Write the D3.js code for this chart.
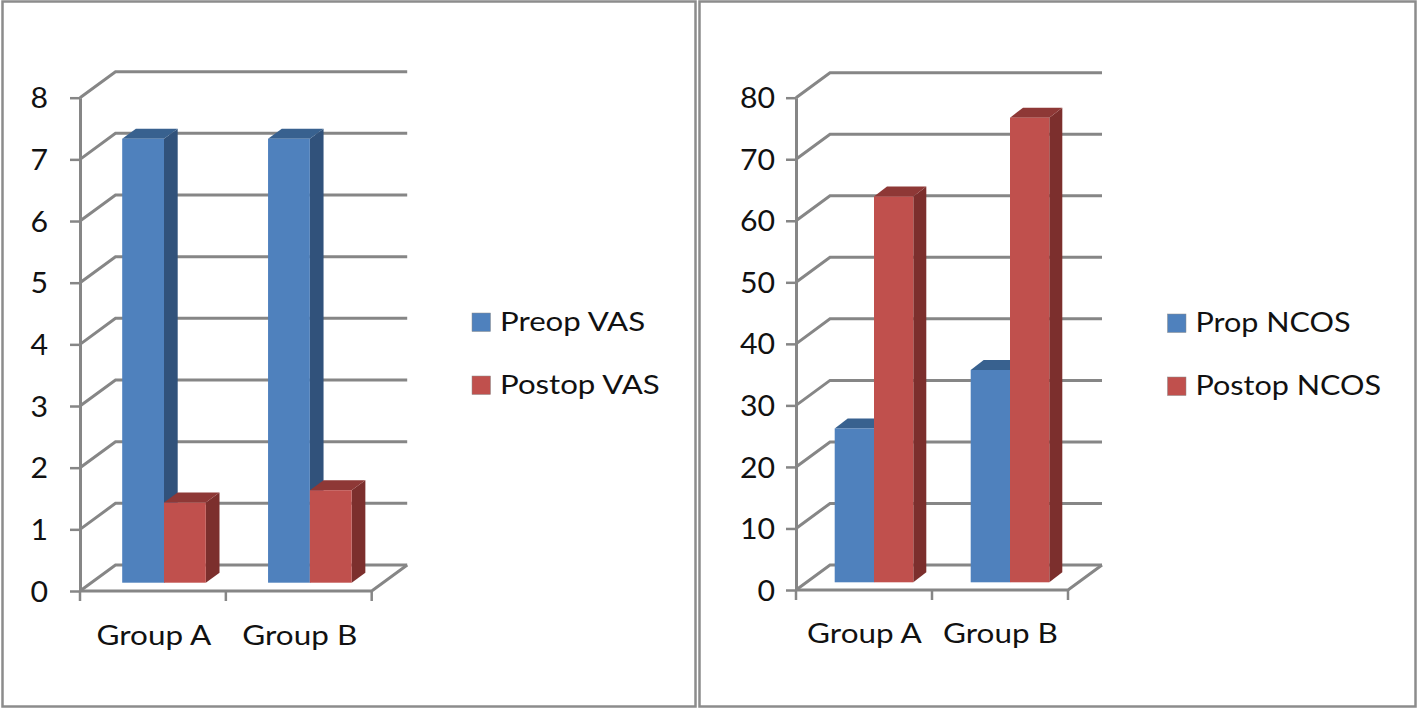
<!DOCTYPE html>
<html>
<head>
<meta charset="utf-8">
<script src="https://cdnjs.cloudflare.com/ajax/libs/d3/7.8.5/d3.min.js"></script>
<style>
  html, body { margin: 0; padding: 0; background: #fff; }
  svg { display: block; }
  text { fill: #111; }
</style>
</head>
<body>
<svg id="vis" width="1418" height="710"></svg>
<script>
const groups = ["Group A", "Group B"];

const vasSeries = ["Preop VAS", "Postop VAS"];
const preopVas = [7.2, 7.2];
const postopVas = [1.3, 1.5];
const vasTicks = [0, 1, 2, 3, 4, 5, 6, 7, 8];

const ncosSeries = ["Prop NCOS", "Postop NCOS"];
const propNcos = [25, 34.5];
const postopNcos = [62.7, 75.5];
const ncosTicks = [0, 10, 20, 30, 40, 50, 60, 70, 80];

const fills = ["#4f81bd", "#c0504d"];
const tops = ["#38618f", "#8e3836"];
const sides = ["#31527b", "#7c2f2d"];
const gridColor = "#868686";
const fontName = "Lato, 'Noto Sans', sans-serif";

const svg = d3.select("#vis");

// panel frames
svg.append("rect").attr("x", 2.5).attr("y", 1.5).attr("width", 693).attr("height", 705)
  .attr("fill", "none").attr("stroke", "#8c8c8c").attr("stroke-width", 2.5);
svg.append("rect").attr("x", 699.5).attr("y", 1.5).attr("width", 716).attr("height", 705)
  .attr("fill", "none").attr("stroke", "#8c8c8c").attr("stroke-width", 2.5);

function draw3dChart(cfg) {
  const g = svg.append("g");

  const x = d3.scaleBand().domain(groups).range([cfg.x0, cfg.x1]);
  const y = d3.scaleLinear().domain([0, d3.max(cfg.ticks)]).range([cfg.y0, cfg.yTop]);

  // back wall gridlines and the diagonal back to the axis
  g.append("g").selectAll("path")
    .data(cfg.ticks)
    .join("path")
    .attr("d", d => `M${cfg.x0},${y(d)}L${cfg.x0 + cfg.dx},${y(d) - cfg.dy}L${cfg.x1 + cfg.dx},${y(d) - cfg.dy}`)
    .attr("fill", "none")
    .attr("stroke", gridColor)
    .attr("stroke-width", 3);

  // floor front and right edge
  g.append("path")
    .attr("d", `M${cfg.x0},${cfg.y0}L${cfg.x1},${cfg.y0}L${cfg.x1 + cfg.dx},${cfg.y0 - cfg.dy}`)
    .attr("fill", "none")
    .attr("stroke", gridColor)
    .attr("stroke-width", 3);

  // y axis
  const axisL = g.append("g")
    .attr("transform", `translate(${cfg.x0},0)`)
    .call(d3.axisLeft(y).tickValues(cfg.ticks).tickSize(10).tickSizeOuter(0).tickPadding(cfg.tickPad));
  axisL.select(".domain").attr("stroke", gridColor).attr("stroke-width", 3);
  axisL.selectAll(".tick line").attr("stroke", gridColor).attr("stroke-width", 2.5);
  // the source picture is stretched sideways, so the text is too
  axisL.selectAll(".tick text")
    .attr("font-size", 28).attr("font-family", fontName).attr("fill", "#111")
    .attr("dy", "0.36em")
    .attr("x", 0)
    .attr("transform", `translate(${-(10 + cfg.tickPad)},0) scale(1.08,1)`);

  // x axis
  const axisB = g.append("g")
    .attr("transform", `translate(0,${cfg.y0})`)
    .call(d3.axisBottom(x).tickSize(0).tickPadding(cfg.labelPad));
  axisB.select(".domain").remove();
  axisB.selectAll(".tick text")
    .attr("font-size", 26).attr("font-family", fontName).attr("fill", "#111")
    .attr("transform", `translate(${cfg.labelShift},0) scale(1.21,1)`);
  g.append("g").selectAll("line")
    .data([cfg.x0, (cfg.x0 + cfg.x1) / 2, cfg.x1])
    .join("line")
    .attr("x1", d => d).attr("x2", d => d)
    .attr("y1", cfg.y0).attr("y2", cfg.y0 + 10)
    .attr("stroke", gridColor).attr("stroke-width", 2.5);

  // bars, drawn left to right so the red block sits over the blue side face
  const inner = d3.scaleBand().domain([0, 1]).range([0, 2 * cfg.barW]);
  const base = cfg.y0 - cfg.barLift;
  const barScale = d3.scaleLinear().domain(y.domain()).range([base, base - (cfg.y0 - cfg.yTop)]);
  const bars = [];
  groups.forEach((name, i) => {
    [cfg.a, cfg.b].forEach((vals, s) => {
      bars.push({ left: x(name) + cfg.barInset + inner(s), value: vals[i], s: s });
    });
  });

  const barG = g.append("g").selectAll("g").data(bars).join("g");
  // side face
  barG.append("path")
    .attr("d", d => {
      const r = d.left + cfg.barW;
      return `M${r},${base}L${r + cfg.bdx},${base - cfg.bdy}L${r + cfg.bdx},${barScale(d.value) - cfg.bdy}L${r},${barScale(d.value)}Z`;
    })
    .attr("fill", d => sides[d.s]);
  // top face
  barG.append("path")
    .attr("d", d => {
      const t = barScale(d.value);
      return `M${d.left},${t}L${d.left + cfg.bdx},${t - cfg.bdy}L${d.left + cfg.barW + cfg.bdx},${t - cfg.bdy}L${d.left + cfg.barW},${t}Z`;
    })
    .attr("fill", d => tops[d.s]);
  // front face
  barG.append("rect")
    .attr("x", d => d.left)
    .attr("y", d => barScale(d.value))
    .attr("width", cfg.barW)
    .attr("height", d => base - barScale(d.value))
    .attr("fill", d => fills[d.s]);

  // legend
  const leg = g.append("g").selectAll("g")
    .data(cfg.series)
    .join("g")
    .attr("transform", (d, i) => `translate(${cfg.legX},${cfg.legY + i * 63})`);
  leg.append("rect")
    .attr("x", 0).attr("y", -9).attr("width", 18.5).attr("height", 18.5)
    .attr("fill", (d, i) => fills[i])
    .attr("stroke", "#8a8a8a").attr("stroke-width", 0.5);
  leg.append("text")
    .attr("dy", "0.36em")
    .attr("font-family", fontName)
    .attr("font-size", 26)
    .attr("transform", `translate(28,0) scale(${cfg.legStretch},1)`)
    .text(d => d);
}

draw3dChart({
  x0: 80, x1: 371.7, y0: 591, yTop: 97.7, dx: 35.5, dy: 26,
  ticks: vasTicks, a: preopVas, b: postopVas, series: vasSeries,
  barW: 41.8, barInset: 42.2, barLift: 8.3, bdx: 13.7, bdy: 10,
  tickPad: 22, labelPad: 35.5, labelShift: 1,
  legX: 472, legY: 322, legStretch: 1.2
});

draw3dChart({
  x0: 796, x1: 1068, y0: 590, yTop: 97.7, dx: 34, dy: 25,
  ticks: ncosTicks, a: propNcos, b: postopNcos, series: ncosSeries,
  barW: 39.3, barInset: 38.7, barLift: 7.7, bdx: 13, bdy: 10,
  tickPad: 11, labelPad: 34.5, labelShift: 0.5,
  legX: 1167.5, legY: 323, legStretch: 1.175
});
</script>
</body>
</html>
